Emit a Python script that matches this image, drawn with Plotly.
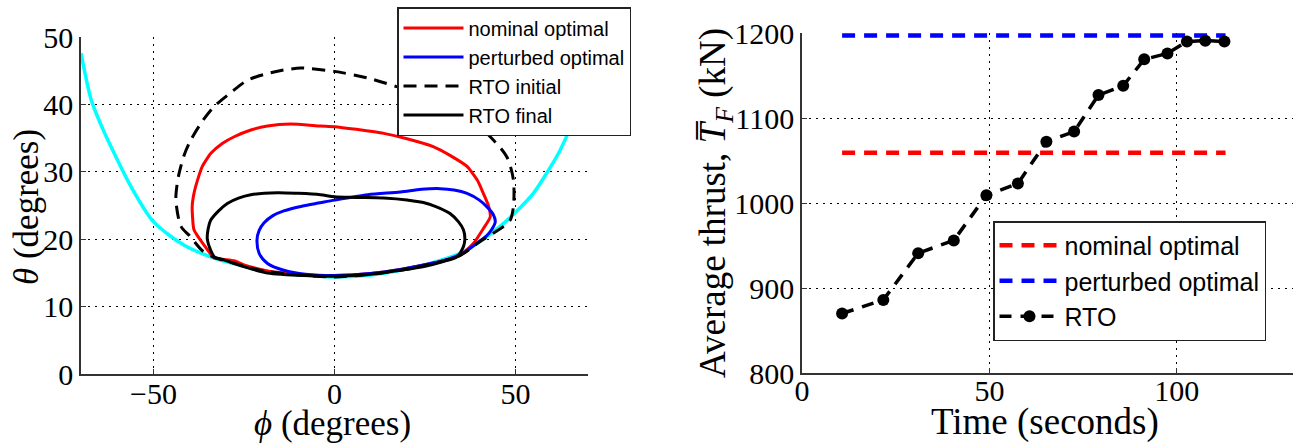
import plotly.graph_objects as go

# ---------------- Left panel data (phi, theta in degrees) ----------------
boundary_phi = [-70.0, -67.2, -64.5, -61.7, -56.2, -50.0, -41.5, -33.2, -25.0, -18.5, -10.0, -3.9, 0.0,
                10.0, 18.2, 25.0, 34.7, 40.0, 45.7, 50.0, 54.9, 58.6, 62.3, 65.0, 67.0, 68.5]
boundary_theta = [47.6, 40.7, 37.0, 33.7, 27.8, 22.6, 19.1, 17.2, 16.0, 15.2, 14.7, 14.5, 14.4,
                  14.7, 15.4, 16.2, 17.9, 19.6, 21.9, 24.0, 26.8, 29.8, 33.2, 36.5, 40.0, 44.0]

nominal_phi = [-33.2, -36.0, -38.8, -39.3, -38.8, -37.8, -36.5, -34.2, -31.0, -27.7, -23.1, -18.5, -12.1,
               -3.9, 0.0, 6.0, 13.6, 20.0, 27.4, 32.0, 36.6, 39.5, 41.1, 42.5, 43.0, 40.9, 38.4, 34.7,
               30.0, 25.0, 18.2, 10.0, 0.0, -8.0, -18.5, -25.0, -27.7, -30.5, -33.2]
nominal_theta = [17.2, 19.1, 21.4, 24.8, 26.8, 28.8, 30.8, 32.7, 34.2, 35.2, 36.2, 36.8, 37.1,
                 36.8, 36.7, 36.3, 35.7, 34.9, 33.7, 32.4, 30.8, 28.7, 26.8, 25.0, 23.3, 21.4, 19.4, 17.6,
                 16.8, 16.2, 15.5, 14.9, 14.6, 14.7, 15.3, 16.2, 16.8, 17.0, 17.2]

perturbed_phi = [-21.4, -20.8, -19.5, -17.0, -14.0, -9.0, -4.0, 0.0, 9.2, 18.2, 24.0, 29.2, 33.0, 36.6,
                 40.0, 42.1, 43.8, 44.4, 43.5, 42.0, 39.3, 36.5, 34.7, 30.0, 25.0, 18.2, 10.0, 0.0,
                 -8.0, -14.0, -18.5, -20.8, -21.4]
perturbed_theta = [19.9, 21.3, 22.4, 23.5, 24.2, 24.9, 25.4, 25.8, 26.6, 27.0, 27.4, 27.5, 27.3, 26.8,
                   25.8, 24.8, 23.7, 22.6, 21.5, 20.5, 19.4, 18.3, 17.7, 16.8, 16.2, 15.5, 14.9, 14.6,
                   14.8, 15.4, 16.4, 17.9, 19.9]

rto_initial_phi = [-36.5, -40.0, -42.4, -43.8, -43.5, -42.9, -41.5, -39.7, -36.5, -33.2, -28.5, -24.0,
                   -19.0, -14.0, -9.4, -6.6, 0.0, 9.2, 17.4, 25.0, 32.0, 38.0, 43.0, 47.6, 49.4, 49.4,
                   48.5, 46.7, 40.0, 34.7, 25.0, 18.2, 10.0, 0.0, -10.0, -18.5, -25.0, -30.0, -33.2, -36.5]
rto_initial_theta = [18.3, 20.5, 21.9, 25.8, 28.0, 29.8, 32.5, 34.7, 37.5, 39.7, 41.8, 43.6,
                     44.5, 45.1, 45.4, 45.3, 44.9, 43.9, 42.6, 41.3, 39.8, 37.5, 35.2, 32.2, 28.8, 24.8,
                     22.8, 21.9, 19.6, 17.6, 16.1, 15.4, 14.8, 14.4, 14.7, 15.2, 16.0, 16.8, 17.3, 18.3]

rto_final_phi = [-33.2, -35.1, -34.9, -34.2, -32.0, -29.6, -26.5, -23.1, -15.8, -10.0, -3.9, 0.0, 6.0,
                 13.6, 20.0, 25.5, 29.0, 31.9, 34.2, 35.6, 36.0, 35.6, 33.8, 30.0, 25.0, 18.2, 10.0,
                 0.0, -8.0, -18.5, -23.0, -27.7, -31.0, -33.2]
rto_final_theta = [17.4, 19.9, 21.5, 22.8, 24.2, 25.3, 26.1, 26.6, 26.9, 26.8, 26.6, 26.3, 26.2,
                   26.1, 25.8, 25.3, 24.6, 23.8, 22.6, 21.4, 20.0, 18.9, 17.4, 16.7, 16.0, 15.4, 14.8,
                   14.5, 14.6, 15.0, 15.6, 16.4, 17.0, 17.4]

left_xticks = [-50, 0, 50]
left_xticklabels = ["\u221250", "0", "50"]
left_yticks = [0, 10, 20, 30, 40, 50]

# ---------------- Right panel data ----------------
time_s = [10.7, 21.7, 31.0, 40.5, 49.2, 57.6, 65.2, 72.6, 79.1, 85.7, 91.3, 97.5, 102.7, 107.6, 112.7]
thrust_kN = [870, 886, 941, 956, 1009, 1023, 1072, 1084, 1127, 1138, 1169, 1176, 1190, 1191, 1190]
ref_time = [10.7, 113.0]
nominal_thrust = [1059, 1059]
perturbed_thrust = [1197, 1197]

right_xticks = [0, 50, 100]
right_yticks = [800, 900, 1000, 1100, 1200]

# ---------------- Figure ----------------
fig = go.Figure()

fig.add_trace(go.Scatter(x=boundary_phi, y=boundary_theta, mode="lines", showlegend=False,
                         line=dict(color="#00FFFF", width=3.5, shape="spline", smoothing=0.8),
                         xaxis="x", yaxis="y"))
fig.add_trace(go.Scatter(x=nominal_phi, y=nominal_theta, mode="lines", name="nominal optimal",
                         line=dict(color="#FF0000", width=3, shape="spline", smoothing=0.5),
                         xaxis="x", yaxis="y", legend="legend"))
fig.add_trace(go.Scatter(x=perturbed_phi, y=perturbed_theta, mode="lines", name="perturbed optimal",
                         line=dict(color="#0000FF", width=3, shape="spline", smoothing=0.8),
                         xaxis="x", yaxis="y", legend="legend"))
fig.add_trace(go.Scatter(x=rto_initial_phi, y=rto_initial_theta, mode="lines", name="RTO initial",
                         line=dict(color="black", width=3, dash="13px,8px", shape="spline", smoothing=0.8),
                         xaxis="x", yaxis="y", legend="legend"))
fig.add_trace(go.Scatter(x=rto_final_phi, y=rto_final_theta, mode="lines", name="RTO final",
                         line=dict(color="black", width=3, shape="spline", smoothing=0.8),
                         xaxis="x", yaxis="y", legend="legend"))

fig.add_trace(go.Scatter(x=ref_time, y=nominal_thrust, mode="lines", name="nominal optimal",
                         line=dict(color="#FF0000", width=4.5, dash="13px,9px"),
                         xaxis="x2", yaxis="y2", legend="legend2"))
fig.add_trace(go.Scatter(x=ref_time, y=perturbed_thrust, mode="lines", name="perturbed optimal",
                         line=dict(color="#0000FF", width=4.5, dash="13px,9px"),
                         xaxis="x2", yaxis="y2", legend="legend2"))
fig.add_trace(go.Scatter(x=time_s, y=thrust_kN, mode="lines+markers", name="RTO",
                         line=dict(color="black", width=3.5, dash="12px,9px"),
                         marker=dict(color="black", size=12, symbol="circle"),
                         xaxis="x2", yaxis="y2", legend="legend2"))

tickfont = dict(family="Liberation Serif", size=30, color="black")
grid = dict(showgrid=True, gridcolor="black", gridwidth=1, griddash="1.5px,5.5px",
            showline=True, linecolor="#333333", linewidth=1.5, mirror=False,
            ticks="inside", ticklen=5, tickcolor="#333333", tickwidth=1,
            zeroline=False, tickfont=tickfont, automargin=False)

fig.update_layout(
    width=1295, height=445,
    margin=dict(l=0, r=0, t=0, b=0, autoexpand=False),
    paper_bgcolor="white", plot_bgcolor="white",
    xaxis=dict(domain=[81/1295, 588/1295], range=[-70, 70], tickvals=left_xticks,
               ticktext=left_xticklabels, anchor="y", ticklabelstandoff=-8, **grid),
    yaxis=dict(domain=[1-374/445, 1-37/445], range=[0, 50], tickvals=left_yticks,
               anchor="x", **grid),
    xaxis2=dict(domain=[802/1295, 1293/1295], range=[0, 131], tickvals=right_xticks,
                anchor="y2", ticklabelstandoff=-10, **grid),
    yaxis2=dict(domain=[1-373/445, 1-33/445], range=[800, 1200], tickvals=right_yticks,
                anchor="x2", **grid),
    legend=dict(x=397/1295, y=1-7/445, xanchor="left", yanchor="top",
                bgcolor="white", bordercolor="#222222", borderwidth=1.5,
                font=dict(family="Liberation Sans", size=20, color="black"),
                itemwidth=60, tracegroupgap=0),
    legend2=dict(x=993/1295, y=1-221/445, xanchor="left", yanchor="top",
                 bgcolor="white", bordercolor="#222222", borderwidth=1.5,
                 font=dict(family="Liberation Sans", size=25, color="black"),
                 itemwidth=60, tracegroupgap=0),
    annotations=[
        dict(text="<i>\u03d5</i> (degrees)", x=332/1295, y=0, xref="paper", yref="paper",
             showarrow=False, xanchor="center", yanchor="bottom",
             font=dict(family="Liberation Serif", size=35, color="black")),
        dict(text="<i>\u03b8</i> (degrees)", x=26/1295, y=1-207/445, xref="paper", yref="paper",
             showarrow=False, xanchor="center", yanchor="middle", textangle=-90,
             font=dict(family="Liberation Serif", size=35, color="black")),
        dict(text="Time (seconds)", x=1045/1295, y=0, xref="paper", yref="paper",
             showarrow=False, xanchor="center", yanchor="bottom",
             font=dict(family="Liberation Serif", size=37, color="black")),
        dict(text="Average thrust, <i>T\u0305</i><sub><i>F</i></sub> (kN)", x=715/1295, y=1-203/445,
             xref="paper", yref="paper", showarrow=False, xanchor="center", yanchor="middle",
             textangle=-90, font=dict(family="Liberation Serif", size=37, color="black")),
    ],
)

fig.write_html("out.html")
